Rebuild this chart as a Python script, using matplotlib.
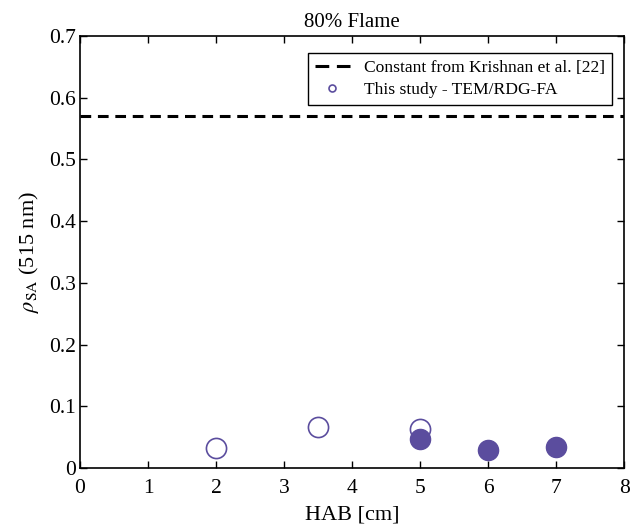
import matplotlib
matplotlib.use("Agg")
import matplotlib.pyplot as plt
from matplotlib.lines import Line2D

plt.rcParams['font.family'] = ['Liberation Serif', 'DejaVu Serif']
plt.rcParams['mathtext.fontset'] = 'stix'

# Data
krishnan_const = 0.57
hab_open = [2, 3.5, 5]
rho_open = [0.033, 0.066, 0.063]
hab_filled = [5, 6, 7]
rho_filled = [0.047, 0.029, 0.035]

purple = '#5b4d9e'

fig = plt.figure(figsize=(6.3, 5.26), dpi=100)
ax = fig.add_axes([0.127, 0.110, 0.864, 0.822])

ax.axhline(krishnan_const, color='black', linestyle=(0, (3.5, 2.2)), linewidth=2.2)
ax.plot(hab_open, rho_open, 'o', markersize=14.5, markerfacecolor='none',
        markeredgecolor=purple, markeredgewidth=1.2)
ax.plot(hab_filled, rho_filled, 'o', markersize=14.5, color=purple)

ax.set_xlim(0, 8)
ax.set_ylim(0, 0.7)
ax.set_xticks(range(0, 9))
ax.set_yticks([0, 0.1, 0.2, 0.3, 0.4, 0.5, 0.6, 0.7])
ax.set_yticklabels(['0', '0.1', '0.2', '0.3', '0.4', '0.5', '0.6', '0.7'])
ax.tick_params(direction='in', length=5, width=1, labelsize=15.5, top=True, right=True)
ax.tick_params(axis='x', pad=8)
ax.tick_params(axis='y', pad=3)
for s in ax.spines.values():
    s.set_linewidth(1.2)

ax.set_xlabel('HAB [cm]', fontsize=16, labelpad=5)
ax.set_ylabel(r'$\rho_{\mathrm{SA}}$ (515 nm)', fontsize=16, labelpad=6)
ax.set_title('80% Flame', fontsize=15, pad=6)

# legend handles: two full dashes and a small open marker
handles = [
    Line2D([], [], color='black', linestyle=(0, (4.5, 2.5)), linewidth=2.2),
    Line2D([], [], marker='o', linestyle='none', markersize=5, markerfacecolor='none',
           markeredgecolor=purple, markeredgewidth=1.2),
]
leg = ax.legend(handles, ['Constant from Krishnan et al. [22]', 'This study - TEM/RDG-FA'],
                loc='upper right', fontsize=12.6, fancybox=False, framealpha=1,
                edgecolor='black', handlelength=2.0, borderpad=0.4,
                labelspacing=0.3, bbox_to_anchor=(0.993, 0.98))
leg.get_frame().set_linewidth(1.0)

fig.savefig('out.png', dpi=100)
